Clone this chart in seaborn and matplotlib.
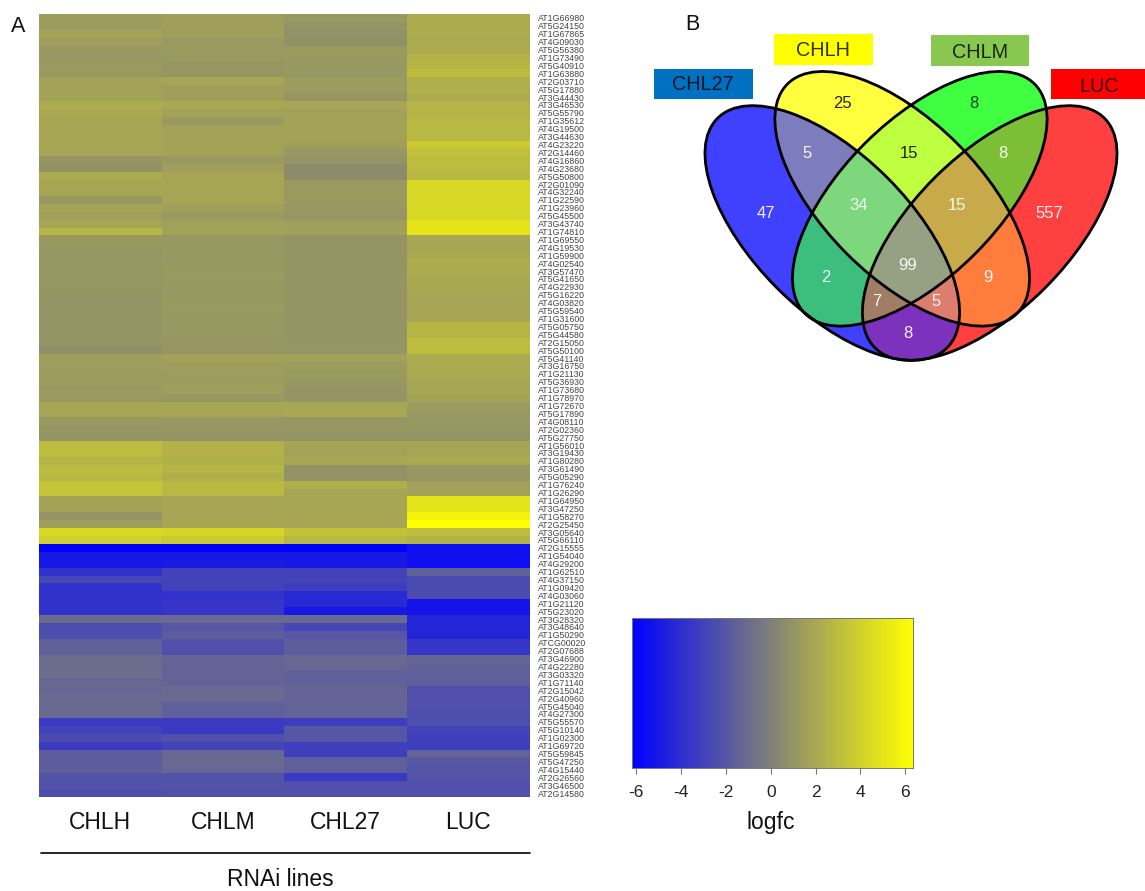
from matplotlib import pyplot as plt
from matplotlib.colors import LinearSegmentedColormap
from matplotlib.patches import Ellipse, Rectangle
import numpy as np
import pandas as pd
import seaborn as sns

W, H = 1145, 891

lines = ["CHLH", "CHLM", "CHL27", "LUC"]

genes = [
    "AT1G66980", "AT5G24150", "AT1G67865", "AT4G09030", "AT5G56380", "AT1G73490", "AT5G40910", "AT1G63880",
    "AT2G03710", "AT5G17880", "AT3G44430", "AT3G46530", "AT5G55790", "AT1G35612", "AT4G19500", "AT3G44630",
    "AT4G23220", "AT2G14460", "AT4G16860", "AT4G23680", "AT5G50800", "AT2G01090", "AT4G32240", "AT1G22590",
    "AT1G23960", "AT5G45500", "AT3G43740", "AT1G74810", "AT1G69550", "AT4G19530", "AT1G59900", "AT4G02540",
    "AT3G57470", "AT5G41650", "AT4G22930", "AT5G16220", "AT4G03820", "AT5G59540", "AT1G31600", "AT5G05750",
    "AT5G44580", "AT2G15050", "AT5G50100", "AT5G41140", "AT3G16750", "AT1G21130", "AT5G36930", "AT1G73680",
    "AT1G78970", "AT1G72670", "AT5G17890", "AT4G08110", "AT2G02360", "AT5G27750", "AT1G56010", "AT3G19430",
    "AT1G80280", "AT3G61490", "AT5G05290", "AT1G76240", "AT1G26290", "AT1G64950", "AT3G47250", "AT1G58270",
    "AT2G25450", "AT3G05640", "AT5G66110", "AT2G15555", "AT1G54040", "AT4G29200", "AT1G62510", "AT4G37150",
    "AT1G09420", "AT4G03060", "AT1G21120", "AT5G23020", "AT3G28320", "AT3G48640", "AT1G50290", "ATCG00020",
    "AT2G07688", "AT3G46900", "AT4G22280", "AT3G03320", "AT1G71140", "AT2G15042", "AT2G40960", "AT5G45040",
    "AT4G27300", "AT5G55570", "AT5G10140", "AT1G02300", "AT1G69720", "AT5G59845", "AT5G47250", "AT4G15440",
    "AT2G26560", "AT3G46500", "AT2G14580",
]

chlh = [
    1.4, 1.4, 1.7, 1.5, 1.3, 1.2, 1.3, 1.3, 1.7, 1.7, 1.7, 2.2, 2.0, 1.9, 1.9, 1.9, 1.9, 1.8, 1.1, 0.9,
    2.2, 1.9, 1.9, 1.2, 1.7, 1.5, 1.9, 2.7, 1.3, 1.2, 1.1, 1.1, 1.1, 1.1, 1.1, 1.0, 1.0, 1.0, 1.0, 1.0,
    1.0, 1.0, 0.8, 1.5, 1.4, 1.4, 1.4, 1.3, 1.3, 1.9, 1.8, 1.3, 1.1, 1.0, 3.0, 3.0, 2.6, 3.0, 2.8, 3.4,
    3.4, 1.7, 1.7, 1.0, 1.5, 4.4, 3.9, -6.2, -5.0, -5.0, -3.8, -2.8, -3.8, -3.8, -3.8, -3.8, -1.0, -2.5, -2.4, -1.5,
    -1.5, -1.0, -1.0, -0.9, -1.2, -1.2, -1.1, -1.1, -1.1, -3.4, -3.0, -2.6, -3.3, -1.7, -1.7, -1.7, -2.2, -2.2, -2.4,
]
chlm = [
    1.5, 1.5, 1.5, 1.3, 1.3, 1.3, 1.1, 1.1, 1.9, 1.5, 1.5, 2.0, 1.7, 1.3, 1.7, 1.7, 1.7, 1.7, 1.3, 1.5,
    1.8, 1.8, 1.8, 1.8, 1.5, 1.3, 1.6, 1.7, 1.2, 1.2, 1.2, 1.2, 1.3, 1.3, 1.2, 1.2, 1.3, 1.3, 1.2, 1.2,
    1.2, 1.1, 1.1, 1.6, 1.5, 1.4, 1.4, 1.5, 1.2, 1.9, 1.8, 1.2, 1.1, 1.0, 2.5, 2.5, 2.4, 2.6, 2.4, 2.8,
    2.8, 1.9, 1.9, 1.9, 1.9, 4.2, 3.7, -6.2, -5.0, -4.9, -3.0, -3.0, -3.0, -3.8, -3.6, -3.6, -1.1, -2.0, -1.7, -2.3,
    -2.3, -1.3, -1.4, -1.4, -1.4, -1.1, -1.1, -1.6, -1.6, -3.3, -3.4, -2.3, -2.9, -1.2, -1.1, -1.2, -2.2, -2.2, -2.3,
]
chl27 = [
    1.2, 1.0, 0.9, 0.8, 1.3, 1.3, 1.2, 1.2, 1.4, 1.4, 1.1, 1.9, 1.6, 1.7, 1.7, 1.7, 1.5, 1.2, 1.0, 0.6,
    0.6, 1.3, 1.3, 1.3, 1.2, 1.1, 1.5, 1.6, 1.0, 1.0, 1.0, 1.0, 1.0, 1.0, 1.0, 1.0, 1.0, 1.0, 1.0, 1.0,
    1.0, 1.1, 1.1, 1.6, 1.4, 1.3, 1.2, 1.0, 1.0, 1.9, 2.0, 1.1, 1.1, 1.0, 1.8, 1.7, 1.9, 0.9, 0.9, 2.3,
    1.8, 1.9, 1.9, 1.9, 1.9, 3.3, 2.8, -6.2, -5.0, -5.0, -3.0, -3.0, -3.2, -4.2, -4.2, -5.0, -1.1, -2.8, -2.0, -1.7,
    -1.7, -1.2, -1.2, -1.5, -1.5, -1.3, -1.3, -1.4, -1.4, -3.2, -2.0, -2.0, -3.1, -3.1, -1.6, -1.6, -3.4, -2.3, -2.3,
]
luc = [
    2.2, 2.2, 2.2, 2.1, 2.2, 2.5, 2.7, 3.0, 2.4, 2.4, 2.2, 2.6, 2.6, 2.8, 2.8, 2.8, 3.7, 3.3, 3.0, 3.0,
    2.8, 4.3, 4.3, 4.3, 4.3, 4.3, 5.0, 5.0, 1.9, 1.9, 2.0, 2.2, 2.2, 2.0, 2.0, 1.9, 1.9, 1.9, 1.9, 2.7,
    2.7, 3.0, 3.0, 2.2, 2.1, 2.1, 1.9, 1.9, 1.7, 1.4, 1.2, 1.2, 1.1, 1.0, 1.8, 1.8, 2.1, 1.2, 1.1, 1.6,
    1.6, 5.0, 5.0, 5.7, 6.3, 3.0, 2.5, -5.4, -5.4, -5.4, -1.5, -2.6, -2.6, -2.6, -5.2, -5.2, -4.4, -4.4, -4.4, -3.6,
    -3.6, -1.3, -1.5, -1.6, -1.6, -2.3, -2.3, -2.3, -2.4, -2.4, -3.0, -3.1, -3.1, -1.4, -1.9, -2.1, -2.1, -2.3, -2.3,
]

cbar_ticks = [-6, -4, -2, 0, 2, 4, 6]
vmin, vmax = -6.18, 6.34

venn_counts = [25, 8, 5, 15, 8, 47, 34, 15, 557, 99, 2, 9, 7, 5, 8]

# fill colour of each venn region, b=CHL27 y=CHLH g=CHLM r=LUC
region_colors = {
    "b": (64, 64, 255), "y": (255, 255, 64), "g": (64, 255, 64), "r": (255, 64, 64),
    "by": (125, 125, 190), "yg": (190, 255, 64), "gr": (125, 190, 55), "bg": (60, 190, 125),
    "yr": (255, 125, 60), "br": (125, 50, 190), "byg": (125, 215, 125), "ygr": (200, 170, 75),
    "bgr": (160, 125, 100), "byr": (220, 125, 110), "bygr": (150, 160, 130),
}


def px_axes(fig, x0, y0, x1, y1):
    # axes from pixel box, y counted from the top like in the picture
    return fig.add_axes([x0 / W, 1 - y1 / H, (x1 - x0) / W, (y1 - y0) / H])


sns.set_theme(style="white")
plt.rcParams["font.family"] = ["Liberation Sans", "DejaVu Sans"]

fig = plt.figure(figsize=(W / 100, H / 100), dpi=100)

cmap = LinearSegmentedColormap.from_list(
    "logfc", [(0, "#0000ff"), (-vmin / (vmax - vmin), "#808078"), (1, "#ffff00")]
)

data = pd.DataFrame({"CHLH": chlh, "CHLM": chlm, "CHL27": chl27, "LUC": luc}, index=genes)[lines]

ax = px_axes(fig, 39, 14, 529.5, 797)
cax = px_axes(fig, 632, 618, 913, 768)
sns.heatmap(data, ax=ax, cmap=cmap, vmin=vmin, vmax=vmax, cbar_ax=cax,
            cbar_kws={"orientation": "horizontal", "ticks": cbar_ticks},
            xticklabels=True, yticklabels=True)
ax.yaxis.tick_right()
ax.tick_params(axis="y", length=0, pad=6, labelsize=6.3, labelcolor="#444444", labelrotation=0)
ax.tick_params(axis="x", length=0, pad=10, labelsize=16.5, labelcolor="#111111", labelrotation=0)
ax.set_xlabel("")
ax.set_ylabel("")

cax.tick_params(axis="x", bottom=True, length=4, width=0.8, color="#777777", pad=8,
                labelsize=12.5, labelcolor="#222222")
cax.set_xticklabels([str(t) for t in cbar_ticks])
for s in cax.spines.values():
    s.set_visible(True)
    s.set_linewidth(0.6)
    s.set_edgecolor("#777777")

# overlay in pixel coordinates for the venn and the loose text
ov = fig.add_axes([0, 0, 1, 1], facecolor="none", zorder=5)
ov.set_axis_off()

a, b = 162.3, 78.0
ellipses = {
    "b": (832.3, 233.0, 45),
    "y": (902.2, 198.8, 45),
    "g": (919.8, 198.8, -45),
    "r": (989.7, 233.0, -45),
}

x0, x1, y0, y1 = 690, 1135, 60, 375
xx, yy = np.meshgrid(np.arange(x0, x1, 0.5) + 0.25, np.arange(y0, y1, 0.5) + 0.25)
masks = {}
for k, (cx, cy, ang) in ellipses.items():
    t = np.radians(ang)
    u = (xx - cx) * np.cos(t) + (yy - cy) * np.sin(t)
    v = -(xx - cx) * np.sin(t) + (yy - cy) * np.cos(t)
    masks[k] = (u / a) ** 2 + (v / b) ** 2 <= 1

img = np.zeros(xx.shape + (4,), dtype=np.uint8)
for name, col in region_colors.items():
    m = np.ones(xx.shape, dtype=bool)
    for k in "bygr":
        m &= masks[k] if k in name else ~masks[k]
    img[m] = list(col) + [255]
ov.imshow(img, extent=(x0, x1, y1, y0), origin="upper", aspect="auto", interpolation="nearest", zorder=1)

for cx, cy, ang in ellipses.values():
    ov.add_patch(Ellipse((cx, cy), 2 * a, 2 * b, angle=ang, fill=False, edgecolor="black", lw=2.0, zorder=2))

# number positions and colours, same order as venn_counts
count_x = [842, 974, 807, 909, 1003, 766, 859, 957, 1049, 908, 826, 988, 877, 936, 908]
count_y = [104, 104, 153, 153, 153, 214, 206, 206, 214, 265, 277, 277, 302, 302, 334]
count_c = ["#111111", "#0b3b0b", "white", "#111111", "white", "white", "white", "white", "white",
           "white", "white", "white", "white", "white", "white"]
for n, tx, ty, c in zip(venn_counts, count_x, count_y, count_c):
    ov.text(tx, ty, str(n), ha="center", va="center", fontsize=12, color=c, alpha=0.92, zorder=3)

boxes = [
    ("CHL27", 654, 69, 753, 99, "#0070c0", 703, 85),
    ("CHLH", 774, 34, 873, 65, "#ffff00", 823, 51),
    ("CHLM", 931, 35, 1029, 66, "#88c850", 980, 52),
    ("LUC", 1051, 69, 1145, 99, "#ff0000", 1099, 86),
]
for name, bx0, by0, bx1, by1, col, tx, ty in boxes:
    ov.add_patch(Rectangle((bx0, by0), bx1 - bx0, by1 - by0, facecolor=col, edgecolor="none", zorder=2))
    ov.text(tx, ty, name, ha="center", va="center", fontsize=14.3, color="black", alpha=0.8, zorder=3)

ov.text(18, 27, "A", ha="center", va="center", fontsize=15.5, color="#111111")
ov.text(692, 25, "B", ha="center", va="center", fontsize=15.5, color="#111111")
ov.plot([41, 530], [853, 853], color="black", lw=1.2)
ov.text(280, 879, "RNAi lines", ha="center", va="center", fontsize=16.5, color="#111111")
ov.text(770.5, 823, "logfc", ha="center", va="center", fontsize=16.5, color="#111111")

ov.set_xlim(0, W)
ov.set_ylim(H, 0)

fig.savefig("out.png", dpi=100, facecolor="white")
